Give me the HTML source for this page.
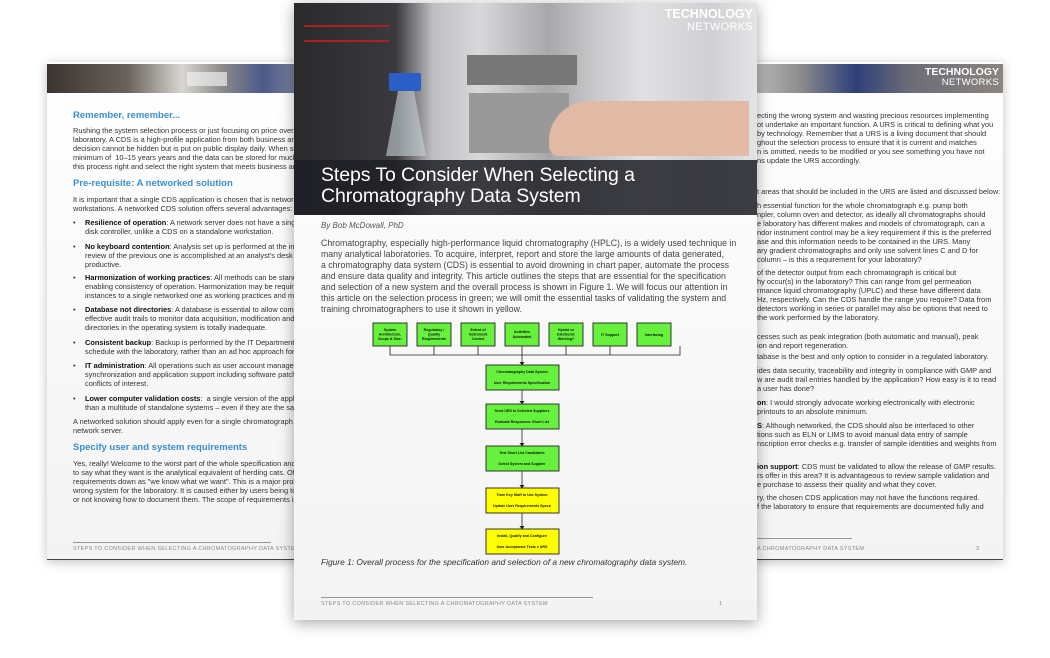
<!DOCTYPE html>
<html><head><meta charset="utf-8"><style>
*{margin:0;padding:0;box-sizing:border-box}
body{width:1050px;height:658px;background:#fff;position:relative;overflow:hidden;font-family:"Liberation Sans",sans-serif}
.pg{position:absolute;background:linear-gradient(#fff,#f3f3f3);box-shadow:0 2px 10px rgba(0,0,0,.25);overflow:hidden}
.l{position:absolute;white-space:nowrap;color:#333;font-size:7.4px;line-height:9px}
.h{position:absolute;white-space:nowrap;color:#3a8fd0;font-weight:bold;font-size:9.5px}
.c{position:absolute;white-space:nowrap;color:#444;font-size:8.75px;line-height:11px}
b{color:#111}
.foot{position:absolute;font-size:5.5px;color:#888;letter-spacing:.3px;white-space:nowrap}
</style></head><body>

<!-- LEFT PAGE -->
<div class="pg" style="left:47px;top:62px;width:270px;height:498px;border-bottom:1px solid #444">
 <div style="position:absolute;left:0;top:2px;width:270px;height:29px;background:linear-gradient(90deg,#3a3430 0%,#6b625c 30%,#d8d6d2 50%,#8c8a88 65%,#4b5a8a 80%,#9a9aa6 100%)"></div>
 <div style="position:absolute;left:140px;top:10px;width:40px;height:14px;background:#eee;opacity:.7"></div>
</div>
<div class="h" style="left:73px;top:110px">Remember, remember...</div>
<div class="l" style="left:73px;top:126px">Rushing the system selection process or just focusing on price over functi<br>laboratory. A CDS is a high-profile application from both business and reg<br>decision cannot be hidden but is put on public display daily. When selecte<br>minimum of &nbsp;10–15 years years and the data can be stored for much long<br>this process right and select the right system that meets business and reg</div>
<div class="h" style="left:73px;top:178px">Pre-requisite: A networked solution</div>
<div class="l" style="left:73px;top:195px">It is important that a single CDS application is chosen that is networked an<br>workstations. A networked CDS solution offers several advantages:</div>

<div class="l" style="left:73px;top:218px">•</div>
<div class="l" style="left:85px;top:218px"><b>Resilience of operation</b>: A network server does not have a single poi<br>disk controller, unlike a CDS on a standalone workstation.</div>
<div class="l" style="left:73px;top:242px">•</div>
<div class="l" style="left:85px;top:242px"><b>No keyboard contention</b>: Analysis set up is performed at the instrum<br>review of the previous one is accomplished at an analyst's desk makin<br>productive.</div>
<div class="l" style="left:73px;top:273px">•</div>
<div class="l" style="left:85px;top:273px"><b>Harmonization of working practices</b>: All methods can be standardiz<br>enabling consistency of operation. Harmonization may be required if t<br>instances to a single networked one as working practices and method</div>
<div class="l" style="left:73px;top:305px">•</div>
<div class="l" style="left:85px;top:305px"><b>Database not directories</b>: A database is essential to allow comprehe<br>effective audit trails to monitor data acquisition, modification and dele<br>directories in the operating system is totally inadequate.</div>
<div class="l" style="left:73px;top:338px">•</div>
<div class="l" style="left:85px;top:338px"><b>Consistent backup</b>: Backup is performed by the IT Department consi<br>schedule with the laboratory, rather than an ad hoc approach for stan</div>
<div class="l" style="left:73px;top:361px">•</div>
<div class="l" style="left:85px;top:361px"><b>IT administration</b>: All operations such as user account management,<br>synchronization and application support including software patching r<br>conflicts of interest.</div>
<div class="l" style="left:73px;top:394px">•</div>
<div class="l" style="left:85px;top:394px"><b>Lower computer validation costs</b>: &nbsp;a single version of the application<br>than a multitude of standalone systems – even if they are the same CD</div>

<div class="l" style="left:73px;top:417px">A networked solution should apply even for a single chromatograph that c<br>network server.</div>
<div class="h" style="left:73px;top:442px">Specify user and system requirements</div>
<div class="l" style="left:73px;top:459px">Yes, really! Welcome to the worst part of the whole specification and selec<br>to say what they want is the analytical equivalent of herding cats. Often us<br>requirements down as "we know what we want". This is a major problem t<br>wrong system for the laboratory. It is caused either by users being to lazy<br>or not knowing how to document them. The scope of requirements is sho</div>
<div style="position:absolute;left:73px;top:542px;width:198px;border-top:1px solid #999"></div>
<div class="foot" style="left:73px;top:546px">STEPS TO CONSIDER WHEN SELECTING A CHROMATOGRAPHY DATA SYSTEM</div>

<!-- RIGHT PAGE -->
<div class="pg" style="left:735px;top:62px;width:268px;height:498px;border-bottom:1px solid #444">
 <div style="position:absolute;left:0;top:2px;width:268px;height:29px;background:linear-gradient(90deg,#cfcfcf 0%,#8a8a8a 25%,#2e3f7a 45%,#6c6c78 65%,#8c8580 100%)"></div>
 <div style="position:absolute;right:4px;top:5px;color:#fff;font-weight:bold;font-size:10.5px;line-height:10px;text-align:right">TECHNOLOGY<br><span style="font-weight:normal;font-size:9.5px;letter-spacing:.3px">NETWORKS</span></div>
</div>
<div class="l" style="left:757px;top:111px">ecting the wrong system and wasting precious resources implementing<br>ot undertake an important function. A URS is critical to defining what you<br>by technology. Remember that a URS is a living document that should<br>ghout the selection process to ensure that it is current and matches<br>n is omitted, needs to be modified or you see something you have not<br>ns update the URS accordingly.</div>
<div class="l" style="left:757px;top:187px">t areas that should be included in the URS are listed and discussed below:</div>
<div class="l" style="left:757px;top:201px">h essential function for the whole chromatograph e.g. pump both<br>npler, column oven and detector, as ideally all chromatographs should<br>e laboratory has different makes and models of chromatograph, can a<br>ndor instrument control may be a key requirement if this is the preferred<br>ase and this information needs to be contained in the URS. Many<br>ary gradient chromatographs and only use solvent lines C and D for<br>column – is this a requirement for your laboratory?</div>
<div class="l" style="left:757px;top:268px">of the detector output from each chromatograph is critical but<br>hy occur(s) in the laboratory? This can range from gel permeation<br>rmance liquid chromatography (UPLC) and these have different data<br>Hz, respectively. Can the CDS handle the range you require? Data from<br>detectors working in series or parallel may also be options that need to<br>the work performed by the laboratory.</div>
<div class="l" style="left:757px;top:332px">cesses such as peak integration (both automatic and manual), peak<br>ion and report regeneration.</div>
<div class="l" style="left:757px;top:352px">tabase is the best and only option to consider in a regulated laboratory.</div>
<div class="l" style="left:757px;top:366px">ides data security, traceability and integrity in compliance with GMP and<br>w are audit trail entries handled by the application? How easy is it to read<br>a user has done?</div>
<div class="l" style="left:757px;top:398px"><b>on</b>: I would strongly advocate working electronically with electronic<br>printouts to an absolute minimum.</div>
<div class="l" style="left:757px;top:421px"><b>S</b>: Although networked, the CDS should also be interfaced to other<br>tions such as ELN or LIMS to avoid manual data entry of sample<br>nscription error checks e.g. transfer of sample identities and weights from</div>
<div class="l" style="left:757px;top:462px"><b>ion support</b>: CDS must be validated to allow the release of GMP results.<br>rs offer in this area? It is advantageous to review sample validation and<br>e purchase to assess their quality and what they cover.</div>
<div class="l" style="left:757px;top:493px">ry, the chosen CDS application may not have the functions required.<br>f the laboratory to ensure that requirements are documented fully and</div>
<div style="position:absolute;left:757px;top:538px;width:95px;border-top:1px solid #999"></div>
<div class="foot" style="left:757px;top:546px">A CHROMATOGRAPHY DATA SYSTEM</div>
<div class="foot" style="left:976px;top:546px">3</div>

<!-- CENTER PAGE -->
<div class="pg" style="left:294px;top:3px;width:463px;height:617px;box-shadow:0 3px 14px rgba(0,0,0,.35)">
 <div style="position:absolute;left:0;top:0;width:463px;height:212px;background:linear-gradient(90deg,#2a2a2c 0%,#3a3a3e 22%,#bfbfc2 30%,#d8d8da 40%,#a8a8aa 55%,#c8c8ca 65%,#e0e0e2 75%,#d0d0d4 90%,#e4e4e6 100%)"></div>
 <div style="position:absolute;left:10px;top:22px;width:85px;height:2px;background:#b02020"></div>
 <div style="position:absolute;left:10px;top:37px;width:85px;height:2px;background:#b02020"></div>
 <div style="position:absolute;left:95px;top:70px;width:32px;height:18px;background:#2a5fc8;border-radius:2px"></div>
 <div style="position:absolute;left:92px;top:88px;width:40px;height:65px;background:rgba(200,210,215,.6);clip-path:polygon(30% 0,70% 0,100% 100%,0 100%)"></div>
 <div style="position:absolute;left:173px;top:52px;width:110px;height:30px;background:#777"></div>
 <div style="position:absolute;left:175px;top:90px;width:100px;height:60px;background:#999"></div>
 <div style="position:absolute;left:255px;top:98px;width:200px;height:55px;background:#e2b9a4;border-radius:40px 0 0 10px"></div>
 <div style="position:absolute;right:4px;top:5px;color:#fff;font-weight:bold;font-size:12.5px;line-height:12px;text-align:right">TECHNOLOGY<br><span style="font-weight:normal;font-size:11px;letter-spacing:.3px">NETWORKS</span></div>
 <div style="position:absolute;left:0;top:157px;width:463px;height:55px;background:rgba(30,32,38,.85)"></div>
 <div style="position:absolute;left:27px;top:162px;color:#fff;font-size:19.5px;line-height:21px;letter-spacing:-.1px">Steps To Consider When Selecting a<br>Chromatography Data System</div>
 <div style="position:absolute;left:27px;top:218px;font-size:8px;font-style:italic;color:#555">By Bob McDowall, PhD</div>
 <div class="c" style="left:27px;top:235px">Chromatography, especially high-performance liquid chromatography (HPLC), is a widely used technique in<br>many analytical laboratories. To acquire, interpret, report and store the large amounts of data generated,<br>a chromatography data system (CDS) is essential to avoid drowning in chart paper, automate the process<br>and ensure data quality and integrity. This article outlines the steps that are essential for the specification<br>and selection of a new system and the overall process is shown in Figure 1. We will focus our attention in<br>this article on the selection process in green; we will omit the essential tasks of validating the system and<br>training chromatographers to use it shown in yellow.</div>
 <svg style="position:absolute;left:0;top:0" width="463" height="617" font-family="Liberation Sans" font-weight="bold" font-size="3.6" text-anchor="middle">
  <g stroke="#222" stroke-width=".8" fill="none">
   <path d="M96 343V352H386V343M140 343V352M184 343V352M228 343V352M272 343V352M316 343V352M228 352V362M228 387V401M228 426V443M228 468V485M228 510V526"/>
  </g>
  <g fill="#222"><path d="M225.5 359h5l-2.5 3.5z M225.5 398h5l-2.5 3.5z M225.5 440h5l-2.5 3.5z M225.5 482h5l-2.5 3.5z M225.5 523h5l-2.5 3.5z"/></g>
  <g stroke="#222" stroke-width=".9" fill="#66f23c">
   <rect x="79" y="320" width="34" height="23"/><rect x="123" y="320" width="34" height="23"/><rect x="167" y="320" width="34" height="23"/><rect x="211" y="320" width="34" height="23"/><rect x="255" y="320" width="34" height="23"/><rect x="299" y="320" width="34" height="23"/><rect x="343" y="320" width="34" height="23"/>
   <rect x="192" y="362" width="73" height="25"/><rect x="192" y="401" width="73" height="25"/><rect x="192" y="443" width="73" height="25"/>
  </g>
  <g stroke="#222" stroke-width=".9" fill="#ffff00"><rect x="192" y="485" width="73" height="25"/><rect x="192" y="526" width="73" height="25"/></g>
  <g fill="#111">
   <text x="96" y="328">System</text><text x="96" y="332.5">Architecture,</text><text x="96" y="337">Scope &amp; Size:</text>
   <text x="140" y="328">Regulatory /</text><text x="140" y="332.5">Quality</text><text x="140" y="337">Requirements</text>
   <text x="184" y="328">Extent of</text><text x="184" y="332.5">Instrument</text><text x="184" y="337">Control</text>
   <text x="228" y="330">Activities</text><text x="228" y="335">Automated</text>
   <text x="272" y="328">Hybrid or</text><text x="272" y="332.5">Electronic</text><text x="272" y="337">Working?</text>
   <text x="316" y="333">IT Support</text><text x="360" y="333">Interfacing</text>
   <text x="228" y="370">Chromatography Data System</text><text x="228" y="381">User Requirements Specification</text>
   <text x="228" y="409">Send URS to Selected Suppliers</text><text x="228" y="420">Evaluate Responses: Short List</text>
   <text x="228" y="451">Test Short List Candidates</text><text x="228" y="462">Select System and Supplier</text>
   <text x="228" y="493">Train Key Staff to Use System</text><text x="228" y="504">Update User Requirements Specn</text>
   <text x="228" y="534">Install, Qualify and Configure</text><text x="228" y="545">User Acceptance Tests v URS</text>
  </g>
 </svg>
 <div style="position:absolute;left:27px;top:554px;font-size:8.4px;font-style:italic;color:#333;white-space:nowrap">Figure 1: Overall process for the specification and selection of a new chromatography data system.</div>
 <div style="position:absolute;left:27px;top:594px;width:272px;border-top:1px solid #999"></div>
 <div class="foot" style="left:27px;top:598px">STEPS TO CONSIDER WHEN SELECTING A CHROMATOGRAPHY DATA SYSTEM</div>
 <div class="foot" style="left:425px;top:598px">1</div>
</div>
</body></html>
